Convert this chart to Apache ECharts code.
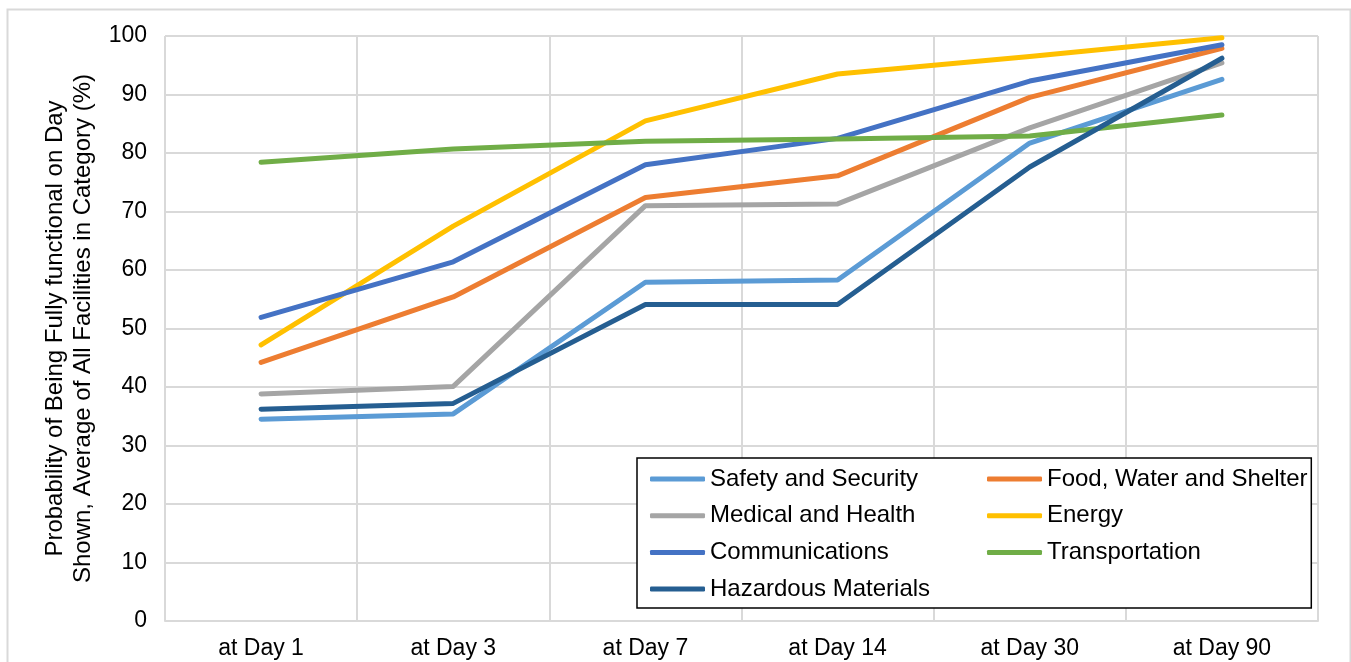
<!DOCTYPE html>
<html>
<head>
<meta charset="utf-8">
<script src="https://cdn.jsdelivr.net/npm/echarts@6/dist/echarts.min.js"></script>
<style>
html,body{margin:0;padding:0;background:#fff;}
#chart{width:1351px;height:662px;}
</style>
</head>
<body>
<div id="chart"></div>
<script>
const categories = ['at Day 1','at Day 3','at Day 7','at Day 14','at Day 30','at Day 90'];
const safety    = [34.5, 35.4, 57.9, 58.3, 81.7, 92.6];
const food      = [44.2, 55.4, 72.4, 76.1, 89.5, 97.9];
const medical   = [38.8, 40.1, 71.0, 71.3, 84.3, 95.4];
const energy    = [47.2, 67.5, 85.5, 93.5, 96.5, 99.7];
const comms     = [51.9, 61.4, 78.0, 82.5, 92.3, 98.5];
const transport = [78.4, 80.7, 82.0, 82.4, 82.9, 86.5];
const hazmat    = [36.2, 37.2, 54.1, 54.1, 77.6, 96.2];

const seriesDefs = [
  ['Safety and Security', safety, '#5B9BD5'],
  ['Food, Water and Shelter', food, '#ED7D31'],
  ['Medical and Health', medical, '#A5A5A5'],
  ['Energy', energy, '#FFC000'],
  ['Communications', comms, '#4472C4'],
  ['Transportation', transport, '#70AD47'],
  ['Hazardous Materials', hazmat, '#255E91']
];

const FONT = 'Liberation Sans, Arial, sans-serif';
const chart = echarts.init(document.getElementById('chart'), null, {renderer:'canvas'});
chart.setOption({
  animation:false,
  backgroundColor:'#fff',
  graphic:[{
    type:'rect', left:5, top:7, silent:true, z:-10,
    shape:{width:1343, height:700},
    style:{fill:'none', stroke:'#d9d9d9', lineWidth:2}
  }],
  grid:{left:165, right:33, top:36, bottom:41},
  xAxis:{
    type:'category', data:categories, boundaryGap:true,
    axisLine:{lineStyle:{color:'#d9d9d9', width:2}},
    axisTick:{show:false},
    axisLabel:{color:'#000', fontSize:23, fontFamily:FONT, margin:16},
    splitLine:{show:true, lineStyle:{color:'#d9d9d9', width:2}}
  },
  yAxis:{
    type:'value', min:0, max:100, interval:10,
    axisLine:{show:false}, axisTick:{show:false},
    axisLabel:{color:'#000', fontSize:23, fontFamily:FONT, margin:18},
    splitLine:{lineStyle:{color:'#d9d9d9', width:2}},
    name:'Probability of Being Fully functional on Day\nShown, Average of All Facilities in Category (%)',
    nameLocation:'middle', nameGap:66,
    nameTextStyle:{color:'#000', fontSize:24, fontFamily:FONT, lineHeight:28}
  },
  legend:{
    left:637, top:458, width:670,
    orient:'horizontal',
    padding:[9,0,7,13],
    borderColor:'#000', borderWidth:1.5,
    backgroundColor:'#fff',
    icon:'roundRect',
    itemWidth:55, itemHeight:5, itemGap:12.7,
    textStyle:{color:'#000', fontSize:24, fontFamily:FONT, width:264.3, lineHeight:22},
    data:seriesDefs.map(d=>d[0])
  },
  series:seriesDefs.map(d=>({
    name:d[0], type:'line', data:d[1], symbol:'none', showSymbol:false,
    color:d[2],
    itemStyle:{color:d[2]},
    lineStyle:{color:d[2], width:5, cap:'round', join:'round'}
  }))
});
</script>
</body>
</html>
